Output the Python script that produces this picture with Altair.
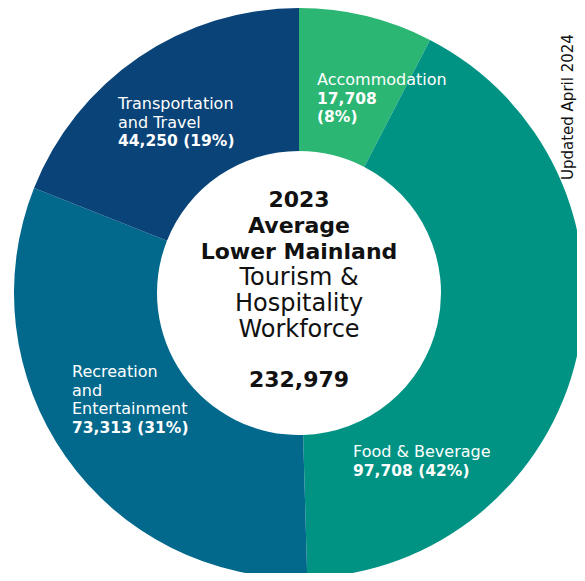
import altair as alt
import pandas as pd

# ---------------- data ----------------
categories = ["Accommodation", "Food & Beverage", "Recreation and Entertainment", "Transportation and Travel"]
values = [17708, 97708, 73313, 44250]
label_name_lines = [["Accommodation"], ["Food & Beverage"], ["Recreation", "and", "Entertainment"], ["Transportation", "and Travel"]]
center_bold_lines = ["2023", "Average", "Lower Mainland"]
center_regular_lines = ["Tourism &", "Hospitality", "Workforce"]
note_text = "Updated April 2024"

# ---------------- styles / layout ----------------
colors = ["#2BB673", "#009384", "#02698D", "#0A4378"]
FONT = "DejaVu Sans"
W, H = 569, 565
CX, CY = 291, 285
R_OUT, R_IN = 285, 142
LABEL_LH = 18.6
# first-baseline anchor of each slice label (chart px), and whether value/percent split
label_layout = [(309, 77, True), (345, 449, False), (64, 369, False), (110, 101, False)]
CENTER_TOP, CENTER_LH, TOTAL_Y = 199, 26, 379

total = sum(values)
slices = pd.DataFrame({"category": categories, "value": values, "order": list(range(len(categories)))})

# slice labels
rows = []
for cat, v, names, (lx, ly, split) in zip(categories, values, label_name_lines, label_layout):
    pct = f"({round(v / total * 100)}%)"
    num = f"{v:,}"
    lines = [(n, "normal") for n in names]
    if split:
        lines += [(num, "bold"), (pct, "bold")]
    else:
        lines += [(f"{num} {pct}", "bold")]
    for i, (t, w) in enumerate(lines):
        rows.append({"text": t, "weight": w, "px": lx, "py": ly + i * LABEL_LH})
labels = pd.DataFrame(rows)

crow = []
for i, t in enumerate(center_bold_lines + center_regular_lines):
    crow.append({"text": t, "weight": "bold" if t in center_bold_lines else "normal",
                 "px": CX, "py": CENTER_TOP + i * CENTER_LH})
crow.append({"text": f"{total:,}", "weight": "bold", "px": CX, "py": TOTAL_Y})
center = pd.DataFrame(crow)

arc = alt.Chart(slices).mark_arc(outerRadius=R_OUT, innerRadius=R_IN, stroke=None).encode(
    theta=alt.Theta("value:Q", stack=True),
    order=alt.Order("order:Q", sort="ascending"),
    color=alt.Color("category:N", scale=alt.Scale(domain=categories, range=colors), legend=None),
    x=alt.value(CX),
    y=alt.value(CY),
)

def text_layer(df, weight, size, align, color):
    return alt.Chart(df).transform_filter(alt.datum.weight == weight).mark_text(
        font=FONT, fontSize=size, fontWeight=weight, align=align, baseline="alphabetic", color=color
    ).encode(
        x=alt.X("px:Q", scale=None, axis=None),
        y=alt.Y("py:Q", scale=None, axis=None),
        text="text:N",
    )

lab_reg = text_layer(labels, "normal", 16, "left", "white")
lab_bold = text_layer(labels, "bold", 15.5, "left", "white")
cen_bold = text_layer(center, "bold", 22, "center", "#111111")
cen_reg = text_layer(center, "normal", 24, "center", "#111111")

note = alt.Chart(pd.DataFrame({"text": [note_text]})).mark_text(
    font=FONT, fontSize=15, angle=270, align="left", baseline="top", color="#111111"
).encode(x=alt.value(553), y=alt.value(172), text="text:N")

chart = alt.layer(arc, lab_reg, lab_bold, cen_bold, cen_reg, note).properties(
    width=W, height=H, autosize=alt.AutoSizeParams(type="none"), padding=0
).configure_view(stroke=None)

chart.save("out.html", embed_options={"renderer": "svg", "actions": False})
